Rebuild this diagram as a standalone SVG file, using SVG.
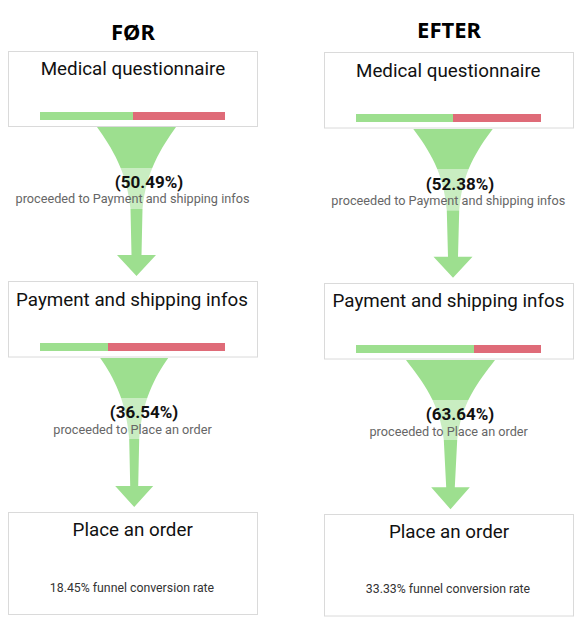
<svg xmlns="http://www.w3.org/2000/svg" width="579" height="620" viewBox="0 0 579 620">
<style>
.box{fill:#fff;stroke:#dadada;stroke-width:1}
.name{font-family:Roboto,"Liberation Sans",sans-serif;font-size:18.8px;fill:#111;text-anchor:middle}
.title{font-family:"Noto Sans","Open Sans",sans-serif;font-size:22px;font-weight:bold;fill:#000;text-anchor:middle}
.ok{fill:#9ddf8f}
.ko{fill:#df6b78}
.funnel{fill:#9ddf8f}
.band{fill:#fff;fill-opacity:0.45}
.pct{font-family:Roboto,"Liberation Sans",sans-serif;font-size:17px;font-weight:bold;fill:#111;text-anchor:middle}
.sub{font-family:Roboto,"Liberation Sans",sans-serif;font-size:12.7px;fill:#666;text-anchor:middle}
.conv{font-family:Roboto,"Liberation Sans",sans-serif;font-size:12.3px;fill:#333;text-anchor:middle}
</style>
<rect width="579" height="620" fill="#fff"/>
<text class="title" x="133" y="40">FØR</text>
<text class="title" x="449" y="37.5">EFTER</text>

<g id="connectors">
  <g id="funnel-L1">
    <path class="funnel" d="M97,127 C112,148 127,172 130.5,209 L131.5,255 L117,255 L136.5,276 L156,255 L141.5,255 L142.5,209 C146,172 161,148 176,127 Z"/>
    <rect class="band" x="100" y="168" width="73" height="41"/>
    <text class="pct" x="149" y="188">(50.49%)</text>
    <text class="sub" x="132.5" y="203">proceeded to Payment and shipping infos</text>
  </g>
  <g id="funnel-L2">
    <path class="funnel" d="M100.2,358 C114,378 126,400 129.2,439 L130.2,486 L115.2,486 L134.2,507 L153.2,486 L138.2,486 L139.2,439 C142.4,400 154.4,378 168.2,358 Z"/>
    <rect class="band" x="100" y="398" width="70" height="41"/>
    <text class="pct" x="144" y="418">(36.54%)</text>
    <text class="sub" x="132.5" y="434">proceeded to Place an order</text>
  </g>
  <g id="funnel-R1">
    <path class="funnel" d="M413.3,129 C429,150 444,173 446.8,210.7 L448,256.7 L433.5,256.7 L453,277.7 L472.5,256.7 L458,256.7 L459.2,210.7 C462,173 477,150 492.7,129 Z"/>
    <rect class="band" x="415" y="169" width="76" height="41.7"/>
    <text class="pct" x="460" y="190">(52.38%)</text>
    <text class="sub" x="448.3" y="205">proceeded to Payment and shipping infos</text>
  </g>
  <g id="funnel-R2">
    <path class="funnel" d="M406,360 C423,382 440,404 443.8,440 L446.2,487.3 L431.2,487.3 L450.5,509.3 L469.8,487.3 L454.8,487.3 L457.2,440 C461,404 478,382 495,360 Z"/>
    <rect class="band" x="408" y="400" width="85" height="40"/>
    <text class="pct" x="460" y="420">(63.64%)</text>
    <text class="sub" x="448.7" y="436">proceeded to Place an order</text>
  </g>
</g>

<g id="L-medical">
  <rect class="box" x="8.5" y="51.5" width="249" height="75"/>
  <text class="name" x="133" y="75">Medical questionnaire</text>
  <rect class="ok" x="40" y="112" width="93" height="8"/>
  <rect class="ko" x="133" y="112" width="92" height="8"/>
</g>
<g id="L-payment">
  <rect class="box" x="8.5" y="281.5" width="249" height="75.5"/>
  <text class="name" x="132" y="306">Payment and shipping infos</text>
  <rect class="ok" x="40" y="343" width="68" height="8"/>
  <rect class="ko" x="108" y="343" width="117" height="8"/>
</g>
<g id="L-order">
  <rect class="box" x="8.5" y="512.5" width="249" height="102"/>
  <text class="name" x="132.7" y="536">Place an order</text>
  <text class="conv" x="132" y="591.5">18.45% funnel conversion rate</text>
</g>

<g id="R-medical">
  <rect class="box" x="324.5" y="52.5" width="249" height="75.5"/>
  <text class="name" x="448.3" y="77.3">Medical questionnaire</text>
  <rect class="ok" x="356" y="114" width="97" height="8"/>
  <rect class="ko" x="453" y="114" width="88" height="8"/>
</g>
<g id="R-payment">
  <rect class="box" x="324.5" y="283.5" width="249" height="75.5"/>
  <text class="name" x="448.5" y="307.3">Payment and shipping infos</text>
  <rect class="ok" x="356" y="345" width="118" height="8"/>
  <rect class="ko" x="474" y="345" width="67" height="8"/>
</g>
<g id="R-order">
  <rect class="box" x="324.5" y="514.5" width="249" height="101.5"/>
  <text class="name" x="449" y="538.3">Place an order</text>
  <text class="conv" x="448" y="592.7">33.33% funnel conversion rate</text>
</g>
</svg>
